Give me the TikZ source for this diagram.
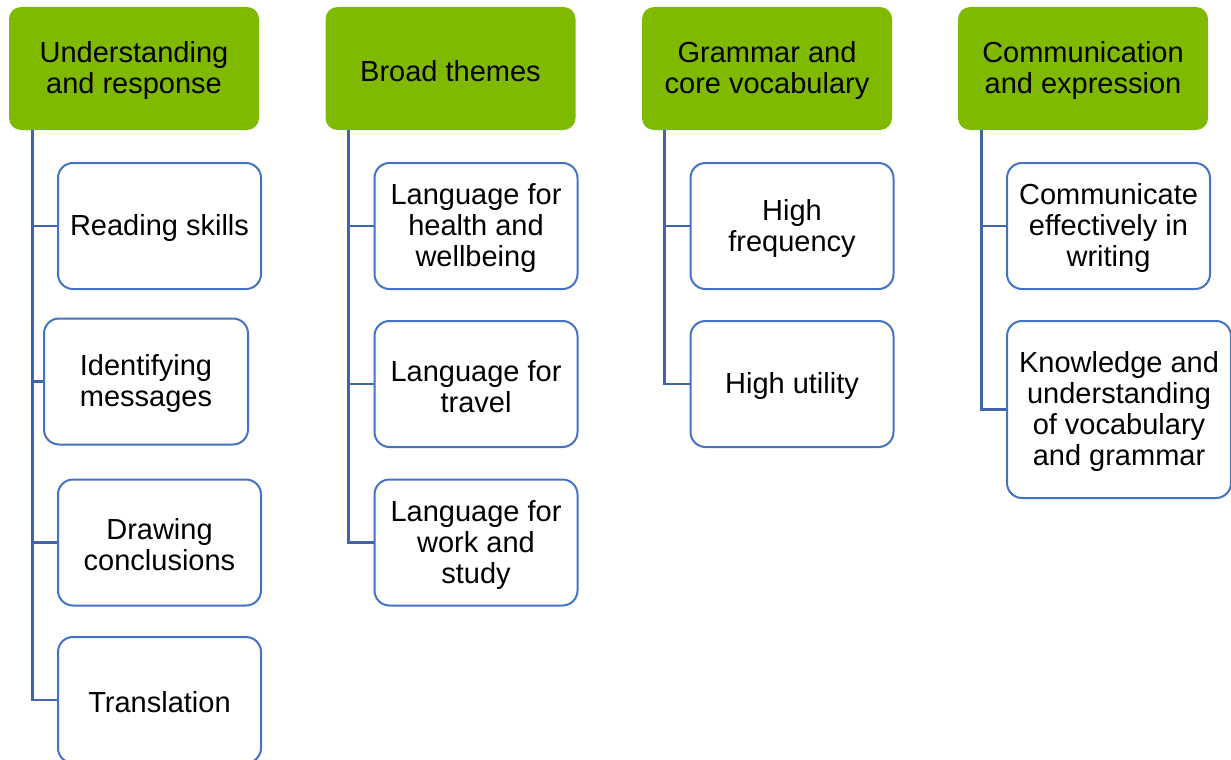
\documentclass[tikz,border=0pt]{standalone}
\usepackage{fontspec}
\setmainfont{Liberation Sans}
\definecolor{hdrgreen}{RGB}{127,186,0}
\definecolor{boxblue}{RGB}{68,114,196}
\definecolor{connblue}{RGB}{65,100,172}
\newcommand\dnstrut{\rule{0pt}{26pt}}
\begin{document}
\begin{tikzpicture}[x=1pt,y=-1pt,
  hdr/.style={fill=hdrgreen, draw=none, rounded corners=12pt, minimum width=250pt, minimum height=123pt, align=center, inner sep=0pt, font=\fontsize{29}{31}\selectfont},
  kid/.style={fill=white, draw=boxblue, line width=2pt, rounded corners=15pt, minimum width=203pt, minimum height=126pt, align=center, inner sep=0pt, font=\fontsize{29}{31}\selectfont},
  conn/.style={draw=connblue, line width=2.8pt}]
\clip (0,0) rectangle (1231,760);
\useasboundingbox (0,0) rectangle (1231,760);
% headers
\node[hdr] (h1) at (134,68.5) {\dnstrut Understanding\\and response};
\node[hdr] (h2) at (450.5,68.5) {\dnstrut Broad themes};
\node[hdr] (h3) at (767,68.5) {\dnstrut Grammar and\\core vocabulary};
\node[hdr] (h4) at (1083,68.5) {\dnstrut Communication\\and expression};
% column 1
\node[kid] (a1) at (159.5,226) {\dnstrut Reading skills};
\node[kid, minimum width=204pt] (a2) at (146,381.5) {\dnstrut Identifying\\messages};
\node[kid] (a3) at (159.5,542.5) {\dnstrut Drawing\\conclusions};
\node[kid] (a4) at (159.5,700) {\dnstrut Translation};
% column 2
\node[kid] (b1) at (476,226) {\dnstrut Language for\\health and\\wellbeing};
\node[kid] (b2) at (476,384) {\dnstrut Language for\\travel};
\node[kid] (b3) at (476,542.5) {\dnstrut Language for\\work and\\study};
% column 3
\node[kid] (c1) at (792,226) {\dnstrut High\\frequency};
\node[kid] (c2) at (792,384) {\dnstrut High utility};
% column 4
\node[kid] (d1) at (1108.5,226) {\dnstrut Communicate\\effectively in\\writing};
\node[kid, minimum width=224pt, minimum height=177pt] (d2) at (1119,409.5) {\dnstrut Knowledge and\\understanding\\of vocabulary\\and grammar};
% connector roots
\coordinate (v1) at ([xshift=24pt]h1.south west);
\coordinate (v2) at ([xshift=23pt]h2.south west);
\coordinate (v3) at ([xshift=23pt]h3.south west);
\coordinate (v4) at ([xshift=24pt]h4.south west);
% connectors
\draw[conn] (v1) |- (a4.west);
\draw[conn] (v1 |- a1.west) -- (a1.west);
\draw[conn] (v1 |- a2.west) -- (a2.west);
\draw[conn] (v1 |- a3.west) -- (a3.west);
\draw[conn] (v2) |- (b3.west);
\draw[conn] (v2 |- b1.west) -- (b1.west);
\draw[conn] (v2 |- b2.west) -- (b2.west);
\draw[conn] (v3) |- (c2.west);
\draw[conn] (v3 |- c1.west) -- (c1.west);
\draw[conn] (v4) |- (d2.west);
\draw[conn] (v4 |- d1.west) -- (d1.west);
\end{tikzpicture}
\end{document}
